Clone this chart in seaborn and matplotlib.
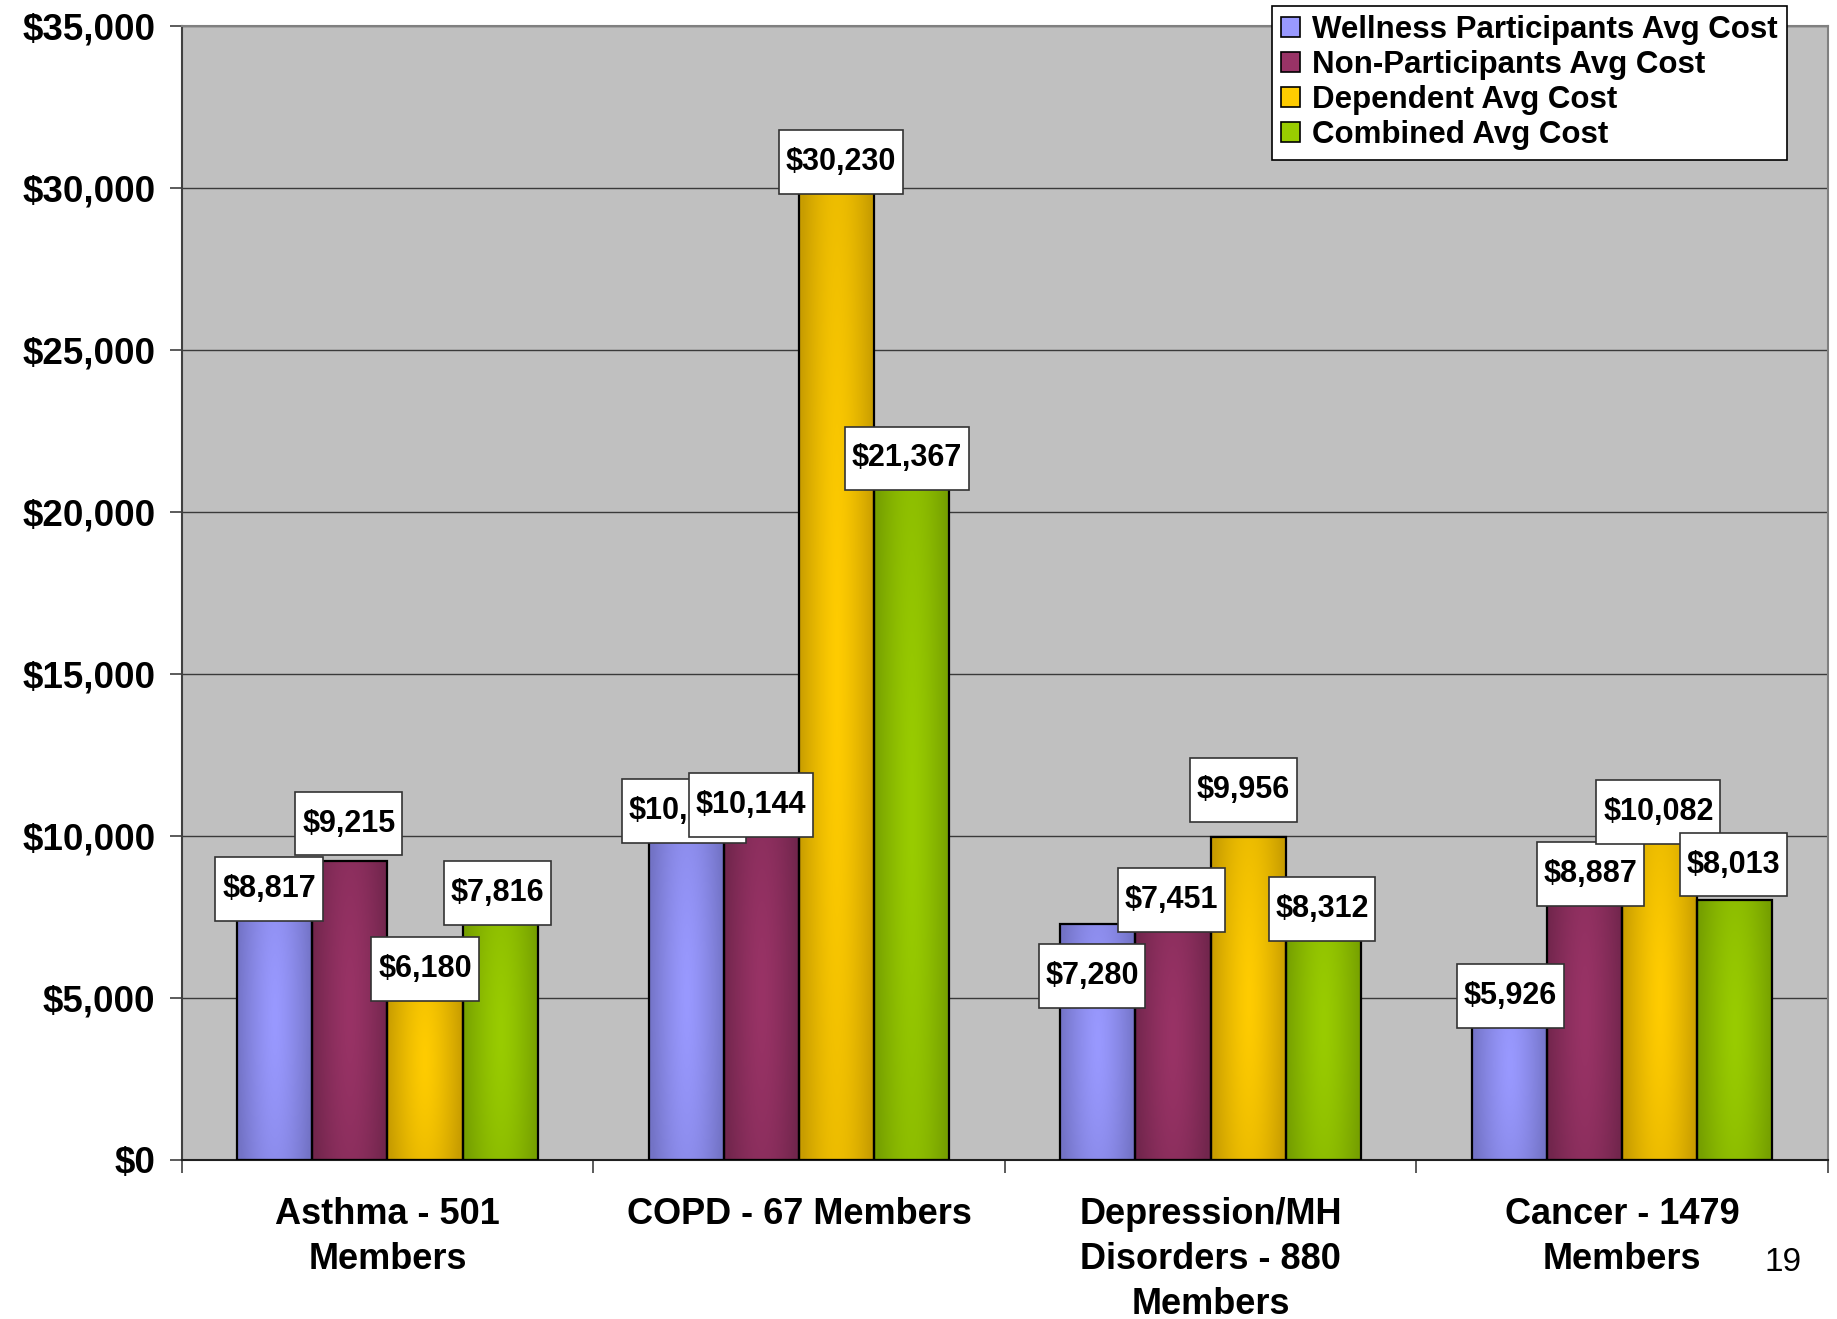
import numpy as np
import pandas as pd
import seaborn as sns
import matplotlib.pyplot as plt
from matplotlib.colors import to_rgb
from matplotlib.patches import Patch
from matplotlib.path import Path
from matplotlib.ticker import FuncFormatter, FixedLocator

# ---- data -------------------------------------------------------------
categories = [
    "Asthma - 501\nMembers",
    "COPD - 67 Members",
    "Depression/MH\nDisorders - 880\nMembers",
    "Cancer - 1479\nMembers",
]
series_names = [
    "Wellness Participants Avg Cost",
    "Non-Participants Avg Cost",
    "Dependent Avg Cost",
    "Combined Avg Cost",
]
wellness = [8817, 10107, 7280, 5926]
non_participants = [9215, 10144, 7451, 8887]
dependent = [6180, 30230, 9956, 10082]
combined = [7816, 21367, 8312, 8013]
y_ticks = [0, 5000, 10000, 15000, 20000, 25000, 30000, 35000]

# ---- styling ------------------------------------------------------------
base_colors = ["#9999FF", "#993366", "#FFCC00", "#99CC00"]
dark_colors = ["#7373C6", "#72264D", "#C89D00", "#76A000"]

# label nudges: horizontal (in px of a category 351 wide) and vertical ($)
label_dx = [[-5, -2, -5, 1], [-1, -9, -1, 5], [0, 4, -4, -1], [-2, -4, -1, -1]]
label_dy = [[-465, 668, -1603, -864], [1162, 812, 576, -65],
            [-286, 576, 1470, 657], [428, 291, -574, 1099]]

sns.set_theme(style="white")
plt.rcParams["font.family"] = ["Liberation Sans", "DejaVu Sans"]
plt.rcParams["font.weight"] = "bold"
for key in ["text.color", "axes.labelcolor", "xtick.labelcolor",
            "ytick.labelcolor"]:
    plt.rcParams[key] = "black"

values = [wellness, non_participants, dependent, combined]
rows = []
for s, vals in zip(series_names, values):
    for c, v in zip(categories, vals):
        rows.append({"category": c, "series": s, "value": v})
df = pd.DataFrame(rows)

fig = plt.figure(figsize=(18.37, 13.19), dpi=100)
ax = fig.add_axes([0.0989, 0.1208, 0.8961, 0.8592])
ax.set_facecolor("#C0C0C0")

sns.barplot(data=df, x="category", y="value", hue="series",
            hue_order=series_names, order=categories,
            palette=base_colors, width=0.73, saturation=1,
            edgecolor="black", linewidth=1.6, legend=False, ax=ax,
            errorbar=None)


def shade_bar(patch, base, dark):
    x0, y0 = patch.get_x(), patch.get_y()
    w, h = patch.get_width(), patch.get_height()
    u = np.linspace(-1, 1, 80)
    v = np.linspace(-1, 1, 80)
    U, V = np.meshgrid(u, v)
    t = np.clip(np.sqrt(U ** 2 + (0.45 * V) ** 2), 0, 1) ** 1.4
    b = np.array(to_rgb(base))
    d = np.array(to_rgb(dark))
    img = b * (1 - t)[..., None] + d * t[..., None]
    im = ax.imshow(img, extent=[x0, x0 + w, y0, y0 + h], origin="lower",
                   aspect="auto", zorder=2, interpolation="bilinear")
    im.set_clip_path(patch)


def label_box(x0, y0, width, height, mutation_size):
    """Rectangular box with wider vertical than horizontal padding."""
    px = 0.22 * mutation_size
    py = 0.55 * mutation_size
    xa, xb = x0 - px, x0 + width + px
    ya, yb = y0 - py, y0 + height + py
    return Path([(xa, ya), (xb, ya), (xb, yb), (xa, yb), (xa, ya)],
                closed=True)


for i, cont in enumerate(ax.containers):
    for bar in cont.patches:
        shade_bar(bar, base_colors[i], dark_colors[i])
        bar.set_facecolor("none")
        bar.set_zorder(3)

# value labels in white boxes
z = 10
for j in range(len(categories)):
    for i, cont in enumerate(ax.containers):
        bar = cont.patches[j]
        v = values[i][j]
        xc = bar.get_x() + bar.get_width() / 2 + label_dx[i][j] / 351
        ax.text(xc, v + label_dy[i][j], f"${v:,}", ha="center", va="center",
                fontsize=22, fontweight="bold", color="black", zorder=z,
                bbox=dict(boxstyle=label_box, fc="white",
                          ec="#333333", lw=1.2))
        z += 1

ax.set_xlim(-0.5, 3.5)
ax.set_ylim(0, 35000)
ax.yaxis.set_major_locator(FixedLocator(y_ticks))
ax.yaxis.set_major_formatter(FuncFormatter(lambda v, p: f"${int(v):,}"))
ax.grid(axis="y", color="#3A3A3A", lw=1.0)
ax.grid(axis="x", visible=False)
ax.set_axisbelow(True)

ax.set_xlabel("")
ax.set_ylabel("")
ax.tick_params(axis="y", which="major", left=True, length=9, width=1.2,
               color="#404040", pad=10, labelsize=26.5, labelcolor="black")
for lab in ax.get_yticklabels():
    lab.set_fontweight("bold")

ax.set_xticks(range(len(categories)))
ax.set_xticklabels(categories, fontsize=26, fontweight="bold",
                   linespacing=1.36, color="black")
ax.tick_params(axis="x", which="major", length=0, pad=27)
ax.xaxis.set_minor_locator(FixedLocator([-0.5, 0.5, 1.5, 2.5, 3.5]))
ax.tick_params(axis="x", which="minor", bottom=True, length=9, width=1.2,
               color="#404040")

for side in ["top", "right"]:
    ax.spines[side].set_color("#808080")
    ax.spines[side].set_linewidth(1.5)
ax.spines["left"].set_color("#404040")
ax.spines["left"].set_linewidth(1.5)
ax.spines["bottom"].set_color("#202020")
ax.spines["bottom"].set_linewidth(1.5)

handles = [Patch(facecolor=c, edgecolor="black", lw=1.2) for c in base_colors]
leg = fig.legend(handles, series_names, loc="upper right",
                 bbox_to_anchor=(0.973, 0.9955), frameon=True, fancybox=False,
                 prop={"size": 22.5, "weight": "bold"}, handlelength=0.6,
                 handleheight=0.6, handletextpad=0.4, labelspacing=0.16,
                 borderpad=0.3, borderaxespad=0, framealpha=1)
leg.get_frame().set_edgecolor("black")
leg.get_frame().set_linewidth(1.2)
leg.set_zorder(50)
for t in leg.get_texts():
    t.set_color("black")

fig.text(0.9705, 0.0425, "19", fontsize=24, fontweight="normal",
         ha="center", va="center", color="black")

fig.savefig("out.png", dpi=100, facecolor="white")
